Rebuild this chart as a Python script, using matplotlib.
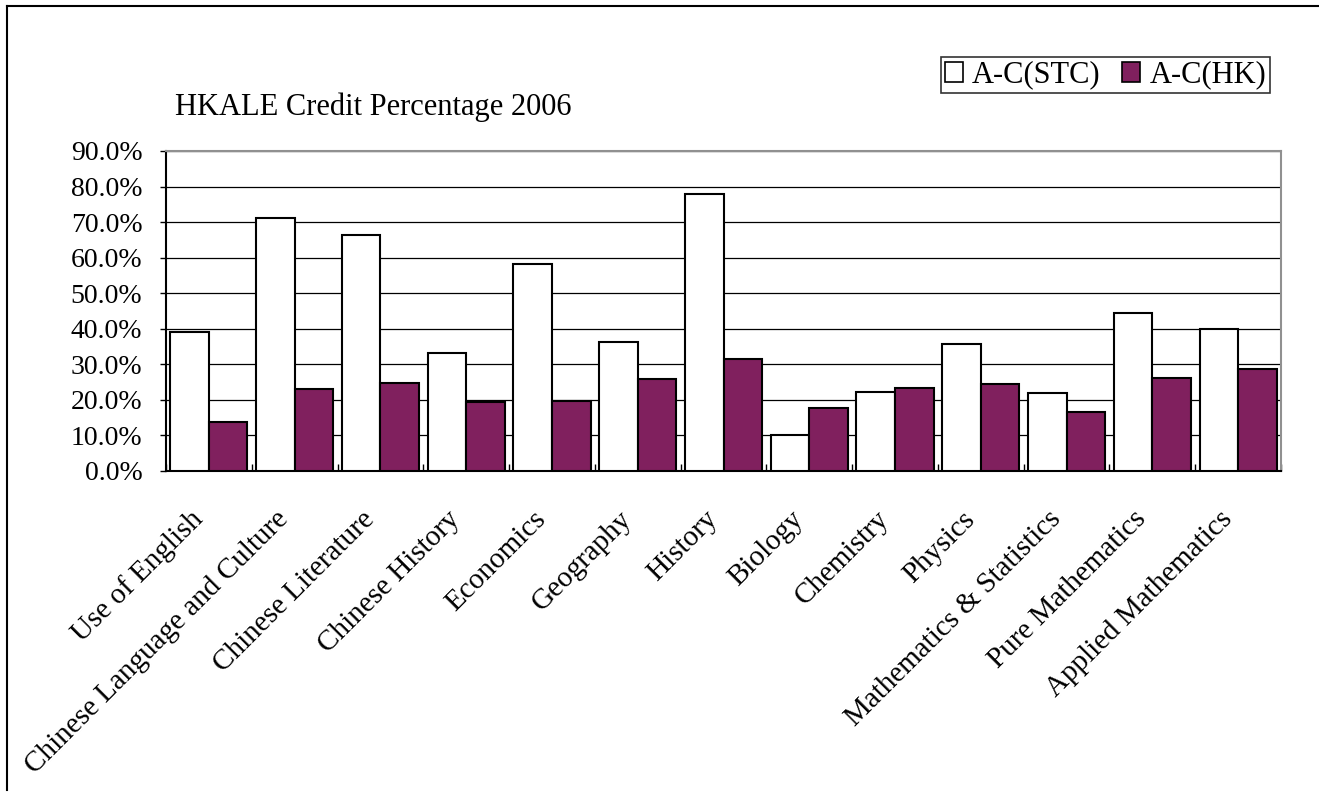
import matplotlib
matplotlib.use("Agg")
import matplotlib.pyplot as plt
import matplotlib.ticker as mticker
import matplotlib.transforms as mtransforms
from matplotlib.lines import Line2D
from matplotlib.patches import Patch
import numpy as np

plt.rcParams["font.family"] = ["Liberation Serif", "DejaVu Serif"]

# ── 데이터 ──────────────────────────────────────────────────────────────────
subjects = [
    "Use of English", "Chinese Language and Culture", "Chinese Literature",
    "Chinese History", "Economics", "Geography", "History", "Biology",
    "Chemistry", "Physics", "Mathematics & Statistics", "Pure Mathematics",
    "Applied Mathematics",
]
stc_pct = [39.0, 71.1, 66.5, 33.3, 58.2, 36.4, 77.8, 10.1, 22.1, 35.7, 22.0, 44.4, 39.9]
hk_pct  = [13.8, 23.1, 24.7, 19.4, 19.7, 25.8, 31.5, 17.6, 23.3, 24.5, 16.5, 26.1, 28.8]
series_labels = ["A-C(STC)", "A-C(HK)"]

HK_COLOR = "#80205E"
W, H = 1319, 793

fig = plt.figure(figsize=(W / 100, H / 100), dpi=100)
ax = fig.add_axes([166 / W, 1 - 471 / H, (1281 - 166) / W, 320 / H])

x = np.arange(len(subjects))
bw = 0.45
ax.bar(x - bw / 2, np.array(stc_pct) / 100, bw, color="white",
       edgecolor="black", linewidth=1.5, zorder=3)
ax.bar(x + bw / 2, np.array(hk_pct) / 100, bw, color=HK_COLOR,
       edgecolor="black", linewidth=1.5, zorder=3)

ax.set_xlim(-0.5, len(subjects) - 0.5)
ax.set_ylim(0, 0.9)
ax.yaxis.set_major_locator(mticker.MultipleLocator(0.1))
ax.yaxis.set_major_formatter(mticker.FuncFormatter(lambda v, _: f"{v * 100:.1f}%"))
ax.grid(True, axis="y", color="black", lw=0.9, zorder=1)
ax.tick_params(axis="y", labelsize=20, length=4, width=1, pad=13)

ax.set_xticks(x)
ax.set_xticklabels(subjects, rotation=45, ha="right", va="center",
                   rotation_mode="anchor", fontsize=21)
ax.tick_params(axis="x", which="major", length=0, pad=32)
ax.set_xticks(np.arange(-0.5, len(subjects)), minor=True)
ax.tick_params(axis="x", which="minor", direction="in", length=5, width=1)

# 라벨을 살짝 왼쪽으로 밀기
shift = mtransforms.ScaledTranslation(-10 / 100, 0, fig.dpi_scale_trans)
for lbl in ax.get_xticklabels():
    lbl.set_transform(lbl.get_transform() + shift)

for side in ["left", "bottom"]:
    ax.spines[side].set_color("black")
    ax.spines[side].set_linewidth(1.5)
for side in ["top", "right"]:
    ax.spines[side].set_color("#909090")
    ax.spines[side].set_linewidth(1.5)

# 제목
fig.text(175 / W, 1 - 107 / H, "HKALE Credit Percentage 2006",
         fontsize=22, va="center", ha="left")

# 범례
handles = [
    Patch(facecolor="white", edgecolor="black", linewidth=1.2, label=series_labels[0]),
    Patch(facecolor=HK_COLOR, edgecolor="black", linewidth=1.2, label=series_labels[1]),
]
leg = fig.legend(handles=handles, loc="upper right", ncol=2,
                 bbox_to_anchor=(1270 / W, 1 - 57 / H), borderaxespad=0,
                 fontsize=22, frameon=True, fancybox=False, handlelength=0.6,
                 handleheight=0.6, handletextpad=0.3, columnspacing=0.7,
                 borderpad=0.12)
leg.get_frame().set_edgecolor("black")
leg.get_frame().set_linewidth(1.2)

# 바깥 테두리 (왼쪽, 위쪽만 보임)
fig.add_artist(Line2D([7 / W, 7 / W], [1 - 790 / H, 1 - 6 / H], color="black",
                      lw=1.5, transform=fig.transFigure))
fig.add_artist(Line2D([7 / W, 1.0], [1 - 6 / H, 1 - 6 / H], color="black",
                      lw=1.5, transform=fig.transFigure))

fig.savefig("out.png", dpi=100)
